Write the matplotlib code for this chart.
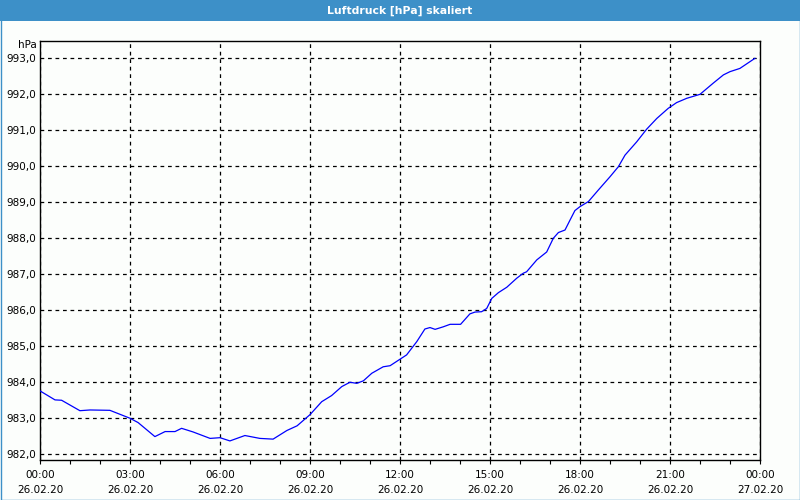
import matplotlib
matplotlib.use("Agg")
import matplotlib.pyplot as plt
from matplotlib.patches import Rectangle
from matplotlib.ticker import FixedLocator, FuncFormatter

# Time in hours since 26.02.20 00:00
hours = [0.0, 0.5, 0.72, 1.33, 1.67, 2.33, 3.0, 3.27, 3.83, 4.17, 4.5, 4.72, 5.1,
         5.67, 6.0, 6.33, 6.83, 7.33, 7.77, 8.23, 8.57, 9.0, 9.39, 9.72, 10.06,
         10.33, 10.56, 10.78, 11.06, 11.44, 11.67, 12.0, 12.22, 12.56, 12.83, 13.0,
         13.17, 13.44, 13.67, 14.02, 14.33, 14.5, 14.72, 14.89, 15.06, 15.28, 15.56,
         15.89, 16.11, 16.22, 16.56, 16.89, 17.11, 17.28, 17.5, 17.67, 17.83, 18.0,
         18.28, 18.61, 19.0, 19.28, 19.5, 19.89, 20.22, 20.56, 20.94, 21.22, 21.56,
         22.0, 22.17, 22.44, 22.78, 23.0, 23.33, 23.83]
pressure = [983.76, 983.51, 983.50, 983.21, 983.23, 983.22, 983.00, 982.88, 982.49,
            982.63, 982.63, 982.72, 982.62, 982.44, 982.46, 982.37, 982.52, 982.44,
            982.42, 982.66, 982.79, 983.10, 983.46, 983.63, 983.88, 984.00, 983.97,
            984.04, 984.25, 984.43, 984.46, 984.64, 984.76, 985.13, 985.48, 985.52,
            985.47, 985.54, 985.61, 985.61, 985.90, 985.95, 985.96, 986.05, 986.33,
            986.49, 986.64, 986.89, 987.03, 987.07, 987.40, 987.62, 988.00, 988.16,
            988.23, 988.51, 988.77, 988.88, 989.02, 989.34, 989.71, 989.99, 990.31,
            990.68, 991.03, 991.33, 991.61, 991.77, 991.89, 992.00, 992.12, 992.31,
            992.54, 992.63, 992.72, 993.00]

x_ticks = [0, 3, 6, 9, 12, 15, 18, 21, 24]
x_tick_labels = ["00:00\n26.02.20", "03:00\n26.02.20", "06:00\n26.02.20",
                 "09:00\n26.02.20", "12:00\n26.02.20", "15:00\n26.02.20",
                 "18:00\n26.02.20", "21:00\n26.02.20", "00:00\n27.02.20"]
y_ticks = [982, 983, 984, 985, 986, 987, 988, 989, 990, 991, 992, 993]

title = "Luftdruck [hPa] skaliert"
unit = "hPa"

BG = "#FCFEFC"
BLUE = "#3D90C8"

fig = plt.figure(figsize=(8, 5), dpi=100, facecolor=BG)

# title bar
fig.patches.append(Rectangle((0, 1 - 21 / 500), 1, 21 / 500, transform=fig.transFigure,
                             facecolor=BLUE, edgecolor="none", zorder=0))
fig.text(0.5, 1 - 10.5 / 500, title, ha="center", va="center", color="white",
         fontsize=7.8, fontweight="bold", family="DejaVu Sans")
# outer border
fig.patches.append(Rectangle((0.5 / 800, 0.5 / 500), 799 / 800, 499 / 500,
                             transform=fig.transFigure, facecolor="none",
                             edgecolor=BLUE, linewidth=1, zorder=1))

ax = fig.add_axes([40 / 800, 1 - 460 / 500, 720 / 800, (460 - 40.7) / 500])
ax.set_facecolor(BG)
ax.plot(hours, pressure, color="#0000FF", linewidth=0.9, zorder=3)

ax.set_xlim(0, 24)
ax.set_ylim(981.84, 993.49)

ax.xaxis.set_major_locator(FixedLocator(x_ticks))
ax.set_xticklabels(x_tick_labels, linespacing=1.65)
ax.xaxis.set_minor_locator(FixedLocator([h for h in range(25) if h % 3 != 0]))
ax.yaxis.set_major_locator(FixedLocator(y_ticks))
ax.yaxis.set_major_formatter(FuncFormatter(lambda v, p: f"{v:.1f}".replace(".", ",")))

ax.tick_params(axis="x", which="major", direction="out", length=3, width=0.8,
               pad=4, labelsize=7.5, colors="black")
ax.tick_params(axis="x", which="minor", direction="out", length=3, width=0.8)
ax.tick_params(axis="y", which="major", length=0, pad=3, labelsize=7.5,
               colors="black")

ax.grid(True, which="major", color="black", linestyle=(0, (3, 3)), linewidth=0.9,
        zorder=1)
for s in ax.spines.values():
    s.set_color("black")
    s.set_linewidth(1)

ax.text(-3 / 720, 1 - 4 / 420, unit, transform=ax.transAxes, ha="right", va="center",
        fontsize=7.5, color="black")

fig.savefig("out.png", dpi=100, facecolor=BG)
